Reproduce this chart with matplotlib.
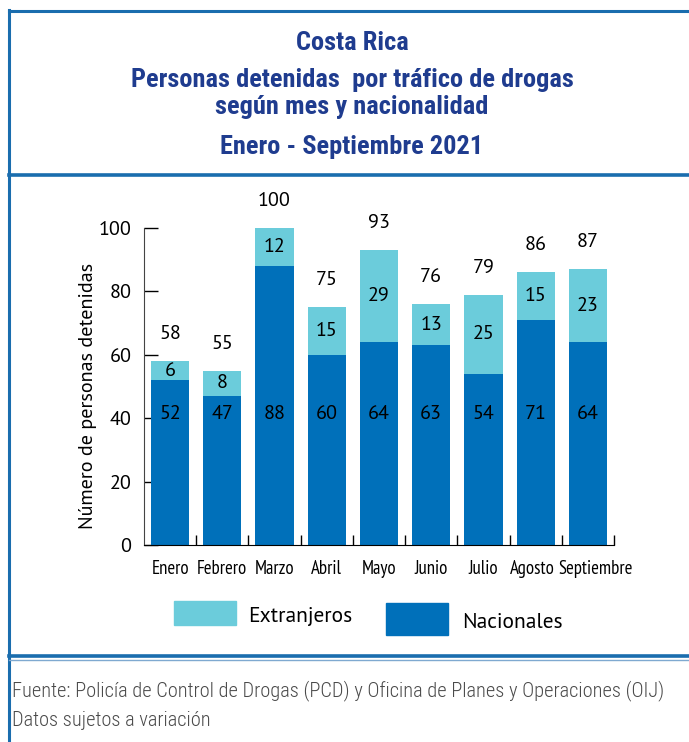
import matplotlib.pyplot as plt
from matplotlib import font_manager as fm
from matplotlib.lines import Line2D
from matplotlib.patches import Rectangle
from matplotlib.transforms import ScaledTranslation

meses = ['Enero', 'Febrero', 'Marzo', 'Abril', 'Mayo', 'Junio', 'Julio', 'Agosto', 'Septiembre']
nacionales = [52, 47, 88, 60, 64, 63, 54, 71, 64]
extranjeros = [6, 8, 12, 15, 29, 13, 25, 15, 23]

c_nac = '#0070BA'
c_ext = '#6BCCDB'
c_title = '#1F3C8F'
c_frame = '#1A6DAE'

available = {f.name for f in fm.fontManager.ttflist}


def pick(*names):
    for n in names:
        if n in available:
            return n
    return 'DejaVu Sans'


f_num = pick('PT Sans', 'Open Sans')
f_narrow = pick('PT Sans Narrow', 'Roboto Condensed', 'Fira Sans Condensed', 'Archivo Narrow')
f_title = pick('Roboto Condensed', 'Fira Sans Condensed', 'Barlow Semi Condensed', 'Roboto')
f_foot = pick('Roboto Condensed', 'Barlow Condensed', 'Encode Sans Condensed', 'PT Sans Narrow')

fig = plt.figure(figsize=(6.89, 7.42), dpi=100)
W, H = 689, 742


def fx(px):
    return px / W


def fy(py):
    return 1 - py / H


# frame lines
for (x0, y0, x1, y1, lw, col) in [
        (9, 10, 9, 742, 2.2, c_frame),
        (9, 11, 689, 11, 2.2, c_frame),
        (9, 175, 689, 175, 2.6, c_frame),
        (9, 656, 689, 656, 2.6, c_frame),
        (9, 660, 689, 660, 1.0, '#7FA9D0')]:
    fig.add_artist(Line2D([fx(x0), fx(x1)], [fy(y0), fy(y1)], lw=lw, color=col,
                          transform=fig.transFigure))

# titles
tfont = dict(family=f_title, weight='bold', color=c_title, ha='center', va='center', fontsize=19)
fig.text(fx(352), fy(43), 'Costa Rica', **tfont)
fig.text(fx(352), fy(80), 'Personas detenidas  por tráfico de drogas', **tfont)
fig.text(fx(352), fy(107), 'según mes y nacionalidad', **tfont)
fig.text(fx(352), fy(147), 'Enero - Septiembre 2021', **tfont)

ax = fig.add_axes([fx(144), fy(545), fx(614) - fx(144), fy(228) - fy(545)])
x = list(range(len(meses)))
totales = [n + e for n, e in zip(nacionales, extranjeros)]

ax.bar(x, nacionales, width=0.73, color=c_nac, zorder=2)
ax.bar(x, extranjeros, width=0.73, bottom=nacionales, color=c_ext, zorder=2)

num_font = dict(family=f_num, fontsize=14.5, color='black', ha='center', va='center')
for i in x:
    ax.text(i, 41.3, str(nacionales[i]), **num_font, zorder=3)
    ax.text(i, nacionales[i] + extranjeros[i] / 2, str(extranjeros[i]), **num_font, zorder=3)
    ax.text(i, totales[i] + 8.5, str(totales[i]), clip_on=False, **num_font)

ax.set_xlim(-0.5, 8.5)
ax.set_ylim(0, 100)
ax.set_yticks([0, 20, 40, 60, 80, 100])
ax.tick_params(axis='y', direction='in', length=10, width=1, labelsize=14.5, pad=9, colors='black')
ax.set_xticks(x)
ax.set_xticklabels(meses, family=f_narrow, fontsize=13.5)
ax.tick_params(axis='x', length=0, pad=11)
ax.set_xticks([i + 0.5 for i in x], minor=True)
ax.tick_params(axis='x', which='minor', direction='in', length=7, width=1)
for lbl in ax.get_yticklabels():
    lbl.set_family(f_num)
# the last two month names sit slightly apart in the original
xlbls = ax.get_xticklabels()
xlbls[-1].set_transform(xlbls[-1].get_transform() + ScaledTranslation(8 / 100, 0, fig.dpi_scale_trans))
xlbls[-2].set_transform(xlbls[-2].get_transform() + ScaledTranslation(-3 / 100, 0, fig.dpi_scale_trans))

for s in ['top', 'right']:
    ax.spines[s].set_visible(False)
ax.spines['left'].set_color('#444444')
ax.spines['bottom'].set_color('black')
ax.set_axisbelow(True)

ax.set_ylabel('Número de personas detenidas', family=f_num, fontsize=14.5)
ax.yaxis.set_label_coords(-0.10, 0.47)

# legend
fig.add_artist(Rectangle((fx(174), fy(625)), fx(236) - fx(174), fy(601) - fy(625), color=c_ext,
                         transform=fig.transFigure))
fig.add_artist(Rectangle((fx(386), fy(635)), fx(448) - fx(386), fy(603) - fy(635), color=c_nac,
                         transform=fig.transFigure))
fig.text(fx(248), fy(617), 'Extranjeros', family=f_num, fontsize=15.5, va='center', ha='left')
fig.text(fx(462), fy(623), 'Nacionales', family=f_num, fontsize=15.5, va='center', ha='left')

# footer
ffont = dict(family=f_foot, weight='light', fontsize=14.7, color='#4a4a4a', ha='left', va='center')
fig.text(fx(12), fy(691), 'Fuente: Policía de Control de Drogas (PCD) y Oficina de Planes y Operaciones (OIJ)', **ffont)
fig.text(fx(12), fy(720), 'Datos sujetos a variación', **ffont)

fig.savefig('out.png', dpi=100)
